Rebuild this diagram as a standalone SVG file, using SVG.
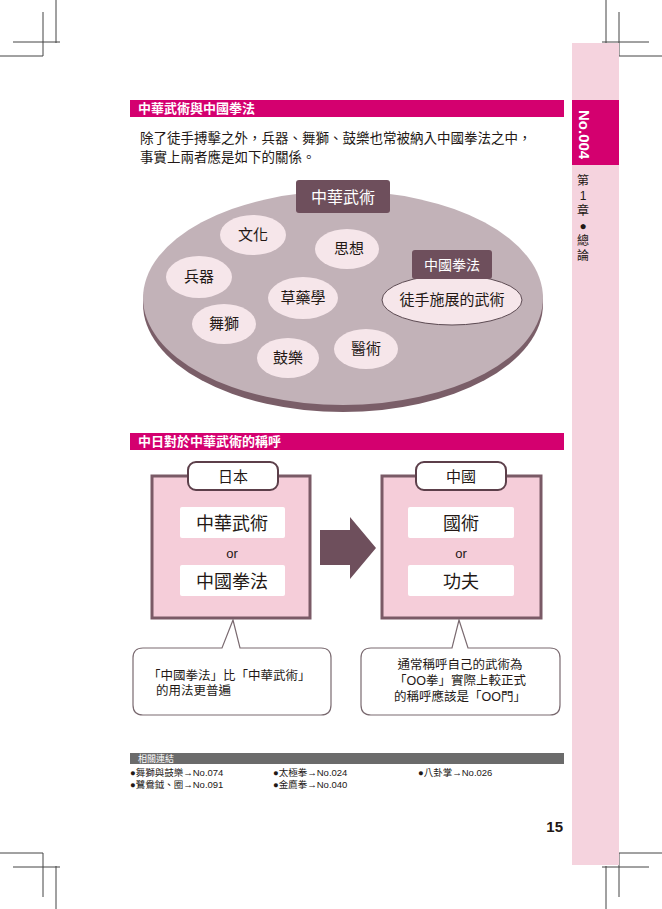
<svg xmlns="http://www.w3.org/2000/svg" width="662" height="909" viewBox="0 0 662 909">
<style>
text{font-family:"Liberation Sans","Noto Sans CJK TC",sans-serif;fill:#231815}
.crop{stroke:#444;stroke-width:1;fill:none}
.hdr{fill:#d4006f}
.ht{fill:#fff;font-weight:bold;font-size:13px}
.sm{fill:#f6e6ea}
.lbl{font-size:15px;text-anchor:middle}
.pbox{fill:#f5cdd9;stroke:#7a5a66;stroke-width:3}
.wbox{fill:#fff}
.tab{fill:#fff;stroke:#5c3f4a;stroke-width:2}
.call{fill:#fff;stroke:#7a6a70;stroke-width:1.2}
.lk{font-size:9.5px}
</style>
<rect width="662" height="909" fill="#fff"/>
<g id="cropmarks">
<path class="crop" d="M56 0V43M13 42H60M43 12V56M0 56H43"/>
<path class="crop" d="M606 0V43M649 42H602M619 12V56M662 56H619"/>
<path class="crop" d="M56 909V866M13 867H60M43 897V853M0 853H43"/>
<path class="crop" d="M606 909V866M649 867H602M619 897V853M662 853H619"/>
</g>
<g id="sidebar">
<rect x="572" y="43" width="47" height="822" fill="#f5d3de"/>
<rect x="572" y="100" width="47" height="65" fill="#d4006f"/>
<text x="0" y="0" transform="translate(579,110) rotate(90)" style="fill:#fff;font-weight:bold;font-size:15px">No.004</text>
<text x="583" y="185" font-size="12" text-anchor="middle">第</text>
<text x="583" y="200" font-size="12" text-anchor="middle">1</text>
<text x="583" y="215" font-size="12" text-anchor="middle">章</text>
<text x="583" y="230" font-size="12" text-anchor="middle">●</text>
<text x="583" y="245" font-size="12" text-anchor="middle">總</text>
<text x="583" y="260" font-size="12" text-anchor="middle">論</text>
</g>
<g id="header1">
<rect class="hdr" x="130" y="100" width="434" height="17"/>
<text class="ht" x="138" y="113">中華武術與中國拳法</text>
<text x="140" y="143" font-size="13.5">除了徒手搏擊之外，兵器、舞獅、鼓樂也常被納入中國拳法之中，</text>
<text x="140" y="162" font-size="13.5">事實上兩者應是如下的關係。</text>
</g>
<g id="disc">
<ellipse cx="343" cy="304" rx="200" ry="108" fill="#7a5e68"/>
<ellipse cx="343" cy="298" rx="200" ry="107" fill="#c2b2b8"/>
</g>
<g id="title-wushu"><rect x="296" y="180" width="94" height="33" rx="3" fill="#6e4f5c"/><text x="343" y="203" class="lbl" style="fill:#fff;font-size:16px">中華武術</text></g>
<g id="n-wenhua"><ellipse class="sm" cx="253" cy="235" rx="33" ry="20"/><text class="lbl" x="253" y="240">文化</text></g>
<g id="n-sixiang"><ellipse class="sm" cx="347" cy="249" rx="32" ry="20"/><text class="lbl" x="349" y="254">思想</text></g>
<g id="n-bingqi"><ellipse class="sm" cx="199" cy="277" rx="33" ry="21"/><text class="lbl" x="199" y="282">兵器</text></g>
<g id="n-caoyao"><ellipse class="sm" cx="303" cy="298" rx="35" ry="21"/><text class="lbl" x="303" y="303">草藥學</text></g>
<g id="n-wushi"><ellipse class="sm" cx="224" cy="324" rx="32" ry="20"/><text class="lbl" x="224" y="329">舞獅</text></g>
<g id="n-gule"><ellipse class="sm" cx="288" cy="358" rx="31" ry="20"/><text class="lbl" x="288" y="363">鼓樂</text></g>
<g id="n-yishu"><ellipse class="sm" cx="366" cy="349" rx="32" ry="20"/><text class="lbl" x="366" y="354">醫術</text></g>
<g id="n-quanfa">
<ellipse cx="452" cy="300" rx="70" ry="25" fill="#f6e6ea" stroke="#5c4a52" stroke-width="1"/>
<rect x="412" y="250" width="80" height="29" rx="3" fill="#6e4f5c"/>
<text class="lbl" x="452" y="270" style="fill:#fff;font-size:14px">中國拳法</text>
<text class="lbl" x="452" y="305">徒手施展的武術</text>
</g>
<g id="header2">
<rect class="hdr" x="130" y="433" width="434" height="17"/>
<text class="ht" x="138" y="446">中日對於中華武術的稱呼</text>
</g>
<g id="japan">
<rect class="pbox" x="152" y="476" width="158" height="142"/>
<rect class="tab" x="188" y="462" width="90" height="28" rx="8"/>
<text class="lbl" x="233" y="482">日本</text>
<rect class="wbox" x="180" y="507" width="105" height="31" rx="2"/>
<text class="lbl" x="232" y="530" style="font-size:18px">中華武術</text>
<text class="lbl" x="232" y="558" style="font-size:13px">or</text>
<rect class="wbox" x="180" y="565" width="105" height="31" rx="2"/>
<text class="lbl" x="232" y="588" style="font-size:18px">中國拳法</text>
</g>
<g id="china">
<rect class="pbox" x="382" y="476" width="159" height="142"/>
<rect class="tab" x="416" y="462" width="90" height="28" rx="8"/>
<text class="lbl" x="461" y="482">中國</text>
<rect class="wbox" x="408" y="507" width="106" height="31" rx="2"/>
<text class="lbl" x="461" y="530" style="font-size:18px">國術</text>
<text class="lbl" x="461" y="558" style="font-size:13px">or</text>
<rect class="wbox" x="408" y="565" width="106" height="31" rx="2"/>
<text class="lbl" x="461" y="588" style="font-size:18px">功夫</text>
</g>
<g id="connectors">
<path d="M320 530H350V517L376 548L350 579V565H320Z" fill="#6e4f5c"/>
</g>
<g id="note-left">
<path class="call" d="M143 648H222L233 620L240 648H321Q331 648 331 658V705Q331 715 321 715H143Q133 715 133 705V658Q133 648 143 648Z"/>
<text x="148" y="680" font-size="12.5">「中國拳法」比「中華武術」</text>
<text x="156" y="695" font-size="12.5">的用法更普遍</text>
</g>
<g id="note-right">
<path class="call" d="M371 648H452L459 620L468 648H550Q560 648 560 658V705Q560 715 550 715H371Q361 715 361 705V658Q361 648 371 648Z"/>
<text x="460" y="669" font-size="12.5" text-anchor="middle">通常稱呼自己的武術為</text>
<text x="460" y="685" font-size="12.5" text-anchor="middle">「OO拳」實際上較正式</text>
<text x="460" y="701" font-size="12.5" text-anchor="middle">的稱呼應該是「OO門」</text>
</g>
<g id="links">
<rect x="130" y="753" width="434" height="11" fill="#6b6b6b"/>
<text x="138" y="762" font-size="9" style="fill:#fff">相關連結</text>
<text class="lk" x="130" y="776">●舞獅與鼓樂→No.074</text>
<text class="lk" x="130" y="788">●鷺鴦鉞、圈→No.091</text>
<text class="lk" x="273" y="776">●太極拳→No.024</text>
<text class="lk" x="273" y="788">●金鷹拳→No.040</text>
<text class="lk" x="418" y="776">●八卦掌→No.026</text>
<text x="563" y="832" font-size="15" font-weight="bold" text-anchor="end">15</text>
</g>
</svg>
